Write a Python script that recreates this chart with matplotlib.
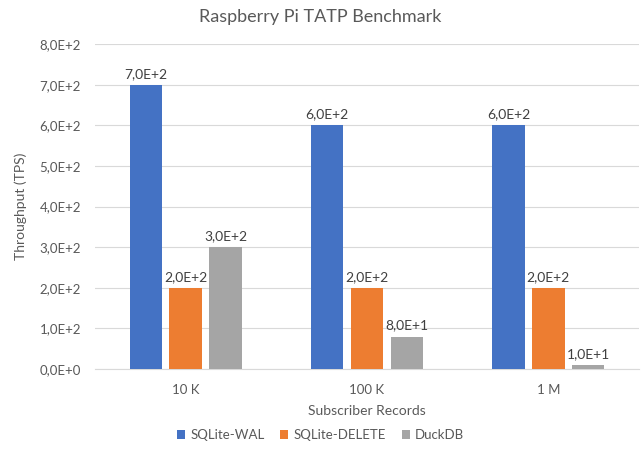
import numpy as np
import matplotlib
matplotlib.use('Agg')
import matplotlib.pyplot as plt

# data
categories = ['10 K', '100 K', '1 M']
series_names = ['SQLite-WAL', 'SQLite-DELETE', 'DuckDB']
sqlite_wal = [700, 600, 600]
sqlite_delete = [200, 200, 200]
duckdb = [300, 80, 10]
colors = ['#4472C4', '#ED7D31', '#A5A5A5']


def sci_label(v):
    # Excel style 7,0E+2
    if v == 0:
        return '0,0E+0'
    exp = int(np.floor(np.log10(abs(v))))
    mant = v / 10 ** exp
    return f'{mant:.1f}'.replace('.', ',') + f'E+{exp}'


plt.rcParams['font.family'] = ['Lato', 'DejaVu Sans']
text_color = '#595959'

fig = plt.figure(figsize=(6.41, 4.55), dpi=100)
ax = fig.add_axes([0.148, 0.189, 0.849, 0.714])

x = np.arange(len(categories))
width = 0.178
step = 0.22
for i, (name, vals) in enumerate(zip(series_names, [sqlite_wal, sqlite_delete, duckdb])):
    pos = x + (i - 1) * step
    bars = ax.bar(pos, vals, width, color=colors[i], label=name, zorder=3)
    for b, v in zip(bars, vals):
        ax.text(b.get_x() + b.get_width() / 2, v + 12, sci_label(v),
                ha='center', va='bottom', fontsize=10, color='#404040')

ax.set_xlim(-0.5, 2.5)
ax.set_ylim(0, 800)
ax.set_yticks(np.arange(0, 801, 100))
ax.set_yticklabels([sci_label(v) for v in range(0, 801, 100)])
ax.set_xticks(x)
ax.set_xticklabels(categories)
ax.grid(axis='y', color='#D9D9D9', linewidth=0.8, zorder=0)
for s in ['top', 'right', 'left']:
    ax.spines[s].set_visible(False)
ax.spines['bottom'].set_color('#D9D9D9')
ax.tick_params(axis='both', length=0, colors=text_color, labelsize=9.5)
ax.tick_params(axis='x', pad=11)
ax.tick_params(axis='y', pad=10)

ax.set_xlabel('Subscriber Records', color=text_color, fontsize=10, labelpad=6)
ax.set_ylabel('Throughput (TPS)', color=text_color, fontsize=10, labelpad=9)
fig.text(0.5, 0.962, 'Raspberry Pi TATP Benchmark', ha='center', va='center',
         fontsize=13, color=text_color)

leg = fig.legend(loc='center', bbox_to_anchor=(0.5, 0.044), ncol=3, frameon=False,
                 fontsize=9.5, handlelength=0.6, handleheight=0.6, handletextpad=0.4,
                 columnspacing=1.2)
for t in leg.get_texts():
    t.set_color(text_color)

fig.savefig('out.png', dpi=100)
